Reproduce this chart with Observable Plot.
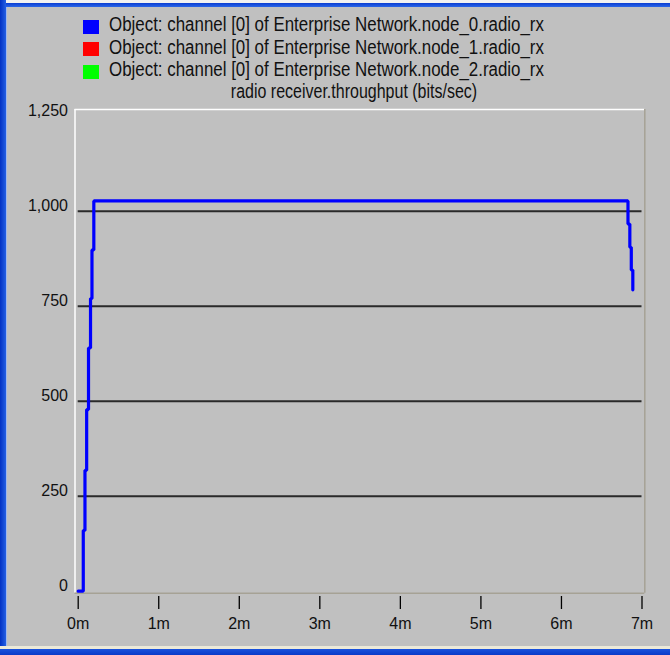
<!DOCTYPE html>
<html><head><meta charset="utf-8">
<script src="https://cdn.jsdelivr.net/npm/d3@7"></script>
<script src="https://cdn.jsdelivr.net/npm/@observablehq/plot@0.6"></script>
<style>
html,body{margin:0;padding:0;background:#c0c0c0;}
#frame{position:relative;width:670px;height:655px;background:#c0c0c0;overflow:hidden;
  font-family:"Liberation Sans",Arial,sans-serif;color:#111;}
.b{position:absolute;}
.row{position:absolute;left:109px;font-size:20px;line-height:20px;white-space:nowrap;transform:scaleX(0.845);transform-origin:0 50%;}
.sw{position:absolute;left:83px;width:16px;height:14px;}
#title{position:absolute;top:81px;left:353.5px;transform:translateX(-50%) scaleX(0.8);font-size:20px;line-height:20px;white-space:nowrap;}
#chart{position:absolute;left:0;top:100px;}
</style></head>
<body>
<div id="frame">
  <div class="b" style="left:0;top:0;width:670px;height:3px;background:#f2f2f2"></div>
  <div class="b" style="left:0;top:3px;width:670px;height:4px;background:linear-gradient(#0a3dd2,#2a66e8)"></div>
  <div class="b" style="left:0;top:0;width:6px;height:655px;background:linear-gradient(to right,#0030c4,#2460e4)"></div>
  <div class="b" style="left:6px;top:7px;width:1px;height:640px;background:#9fb8ee"></div>
  <div class="b" style="left:0;top:646px;width:670px;height:3px;background:#ece9d8"></div>
  <div class="b" style="left:0;top:649px;width:670px;height:6px;background:linear-gradient(#1a52dc,#0a3ac8)"></div>
  <div id="legend"></div>
  <div id="title"></div>
  <div id="chart"></div>
</div>
<script>
// Legend / title text
const seriesNames = [
  "Object: channel [0] of Enterprise Network.node_0.radio_rx",
  "Object: channel [0] of Enterprise Network.node_1.radio_rx",
  "Object: channel [0] of Enterprise Network.node_2.radio_rx"
];
const seriesColors = ["#0000ff", "#ff0000", "#00ff00"];
const chartTitle = "radio receiver.throughput (bits/sec)";

// node_0 throughput (bits/sec) over simulated time (minutes)
const times      = [0, 0.063, 0.084, 0.105, 0.128, 0.153, 0.171, 0.194, 6.826, 6.849, 6.867, 6.886];
const throughput = [0, 160,   318,   478,   640,   770,   898,   1027,  966,   905,   845,   793];

const yTicks = [0, 250, 500, 750, 1000, 1250];
const gridValues = [250, 500, 750, 1000];
const xTicks = [0, 1, 2, 3, 4, 5, 6, 7];

// legend
const legend = document.getElementById("legend");
seriesNames.forEach((name, i) => {
  const top = 14.4 + i * 22.3;
  const sw = document.createElement("div");
  sw.className = "sw";
  sw.style.top = (top + 5.5) + "px";
  sw.style.background = seriesColors[i];
  legend.appendChild(sw);
  const row = document.createElement("div");
  row.className = "row";
  row.style.top = top + "px";
  row.textContent = name;
  legend.appendChild(row);
});
document.getElementById("title").textContent = chartTitle;

const data = times.map((t, i) => ({t, v: throughput[i]}));

const chart = Plot.plot({
  width: 670,
  height: 548,
  marginLeft: 77.7,
  marginRight: 28.5,
  marginTop: 15.7,
  marginBottom: 57.3,
  style: {
    background: "transparent",
    fontFamily: '"Liberation Sans",Arial,sans-serif',
    fontSize: "16px",
    color: "#111",
    overflow: "visible"
  },
  x: {domain: [0, 7]},
  y: {domain: [0, 1250]},
  marks: [
    Plot.ruleY(gridValues, {stroke: "#2a2a2a", strokeWidth: 1.9}),
    Plot.ruleX([0], {dx: -3.2, insetTop: -6.7, insetBottom: -2, stroke: "#ffffff", strokeWidth: 1.5}),
    Plot.ruleY([1250], {dy: -6.7, insetLeft: -3.2, insetRight: -2.8, stroke: "#ffffff", strokeWidth: 1.5}),
    Plot.ruleX([7], {dx: 2.8, insetTop: -6.7, insetBottom: -2, stroke: "#a6a295", strokeWidth: 1.5}),
    Plot.ruleY([0], {dy: 2, insetLeft: -3.2, insetRight: -2.8, stroke: "#a6a295", strokeWidth: 1.5}),
    Plot.axisY({ticks: yTicks, tickSize: 0, tickPadding: 10.2, tickFormat: d3.format(","), dy: -5, label: null}),
    Plot.axisX({ticks: xTicks, tickSize: 13, tickPadding: 7.7, dy: 5.3, tickFormat: d => d + "m", label: null, stroke: "#000", strokeWidth: 1.3}),
    Plot.line(data, {x: "t", y: "v", curve: "step-after", stroke: "#0000ff", strokeWidth: 3.2, strokeLinejoin: "miter"})
  ]
});
document.getElementById("chart").appendChild(chart);
</script>
</body></html>
